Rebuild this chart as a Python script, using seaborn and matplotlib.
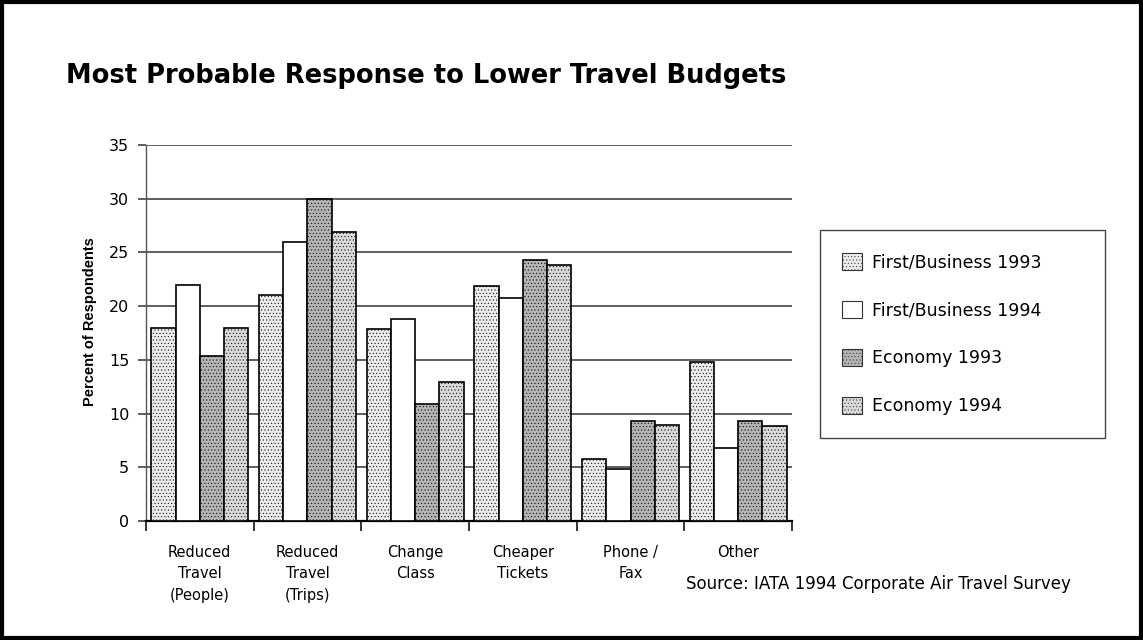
import matplotlib
matplotlib.use('Agg')
import matplotlib.pyplot as plt
import numpy as np
import pandas as pd
import seaborn as sns
from matplotlib.patches import Rectangle

# chart data
categories = ['Reduced\nTravel\n(People)', 'Reduced\nTravel\n(Trips)', 'Change\nClass',
              'Cheaper\nTickets', 'Phone /\nFax', 'Other']
series = ['First/Business 1993', 'First/Business 1994', 'Economy 1993', 'Economy 1994']
fb_1993 = [18.0, 21.0, 17.9, 21.9, 5.8, 14.8]
fb_1994 = [22.0, 26.0, 18.8, 20.8, 4.8, 6.8]
eco_1993 = [15.4, 30.0, 10.9, 24.3, 9.3, 9.3]
eco_1994 = [18.0, 26.9, 12.9, 23.8, 8.9, 8.8]
y_ticks = [0, 5, 10, 15, 20, 25, 30, 35]

df = pd.DataFrame({
    'category': categories * 4,
    'series': np.repeat(series, len(categories)),
    'value': fb_1993 + fb_1994 + eco_1993 + eco_1994,
})

sns.set_style('white')
plt.rcParams['font.family'] = ['DejaVu Sans']
plt.rcParams['hatch.linewidth'] = 0.35
plt.rcParams['text.color'] = 'black'
plt.rcParams['axes.labelcolor'] = 'black'
plt.rcParams['xtick.color'] = 'black'
plt.rcParams['ytick.color'] = 'black'

fills = ['#ececec', '#ffffff', '#b4b4b4', '#dadada']
hatches = ['.....', '', '.....', '.....']

fig = plt.figure(figsize=(11.43, 6.40), dpi=100)
ax = fig.add_axes([0.1277, 0.186, 0.5653, 0.5874])

sns.barplot(data=df, x='category', y='value', hue='series', order=categories,
            hue_order=series, palette=fills, width=0.9, gap=0,
            edgecolor='black', linewidth=1.2, saturation=1, ax=ax, legend=True)

for cont, h in zip(ax.containers, hatches):
    for bar in cont:
        bar.set_hatch(h)
        bar.set_zorder(3)

ax.set_ylim(0, 35)
ax.set_xlim(-0.5, 5.5)
ax.set_yticks(y_ticks)
ax.set_yticklabels([str(t) for t in y_ticks], fontsize=11.5)
ax.yaxis.grid(True, color='#333333', linewidth=1.1, zorder=0)
ax.set_axisbelow(True)
ax.tick_params(axis='y', length=6, width=1.1, color='#333333', labelcolor='black',
               pad=6, direction='out', left=True)

ax.set_xticks(range(len(categories)))
ax.set_xticklabels(categories, fontsize=10.5, linespacing=1.55, va='top')
ax.set_xticks(np.arange(-0.5, 6.0, 1.0), minor=True)
ax.tick_params(axis='x', which='major', length=0, pad=17, labelcolor='black')
ax.tick_params(axis='x', which='minor', length=7, width=1.1, color='black', bottom=True)
ax.set_xlabel('')
ax.set_ylabel('Percent of Respondents', fontsize=10.5, fontweight='bold',
              family='Liberation Sans', color='black')
ax.yaxis.set_label_coords(-0.076, 0.53)

for side in ['top', 'right']:
    ax.spines[side].set_visible(False)
ax.spines['left'].set_color('#555555')
ax.spines['left'].set_linewidth(1.0)
ax.spines['bottom'].set_color('black')
ax.spines['bottom'].set_linewidth(1.6)

handles, labels = ax.get_legend_handles_labels()
for hd, h in zip(handles, hatches):
    hd.set_hatch(h)
    hd.set_edgecolor('#333333')
    hd.set_linewidth(0.8)
leg = ax.legend(handles, labels, loc='upper left', bbox_to_anchor=(1.043, 0.774, 0.441, 0.0),
                mode='expand', fontsize=12.5, frameon=True, fancybox=False,
                edgecolor='#444444', framealpha=1, borderpad=1.3, labelspacing=1.7,
                handlelength=1.15, handleheight=1.15, handletextpad=0.55, borderaxespad=0)
leg.get_frame().set_linewidth(1.0)
for t in leg.get_texts():
    t.set_color('black')

fig.text(0.058, 0.870, 'Most Probable Response to Lower Travel Budgets',
         fontsize=18.5, fontweight='bold', ha='left', va='baseline', color='black')
fig.text(0.937, 0.088, 'Source: IATA 1994 Corporate Air Travel Survey',
         fontsize=12, ha='right', va='center', color='black')

fig.patches.append(Rectangle((0.002, 0.003), 0.996, 0.994, transform=fig.transFigure,
                             fill=False, edgecolor='black', linewidth=3))

fig.savefig('out.png', dpi=100)
